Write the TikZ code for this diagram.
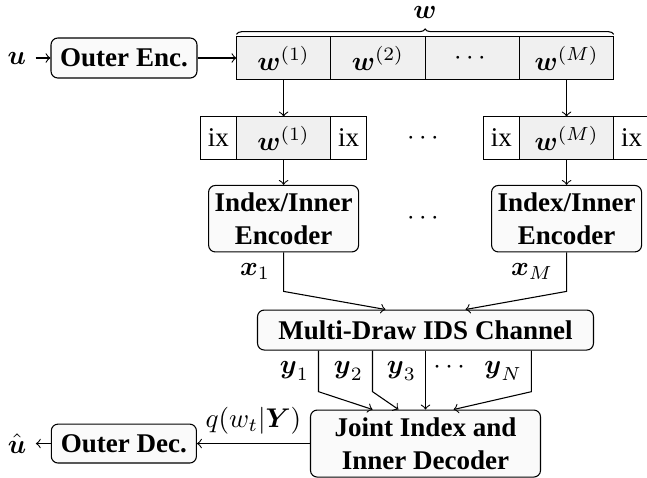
\documentclass[tikz,border=0pt]{standalone}
\usepackage{amsmath,amssymb}
\usepackage[no-math]{fontspec}
\setmainfont{Liberation Serif}
\usetikzlibrary{positioning,calc,decorations.pathreplacing}

\tikzset{
	blk/.style={draw, rounded corners=2.5pt, fill=gray!4, font=\bfseries, align=center, inner sep=2pt},
	cell/.style={draw, fill=gray!12, minimum width=34.9pt, minimum height=15.9pt, inner sep=0pt, outer sep=0pt},
	ixcell/.style={cell, fill=white, minimum width=13.3pt},
}

\begin{document}
\begin{tikzpicture}[x=0.37pt, y=-0.37pt]
	\useasboundingbox (0,0) rectangle (647,477);

	%% OUTER ENCODER and codeword
	\node[blk, minimum width=54pt, minimum height=14.8pt](outer_enc) at (124,58){Outer Enc.};
	\node[left=5.5pt of outer_enc](u){$\boldsymbol{u}$};
	\node[cell, right=14.4pt of outer_enc](w_1){$\boldsymbol{w}^{(1)}$};
	\node[cell, right=0pt of w_1](w_2){$\boldsymbol{w}^{(2)}$};
	\node[cell, right=0pt of w_2](w_dots){$\cdots$};
	\node[cell, right=0pt of w_dots](w_M){$\boldsymbol{w}^{(M)}$};

	\draw[->] (u) -- (outer_enc);
	\draw[->] (outer_enc) -- (w_1);
	\draw[decorate, decoration={brace, amplitude=2pt, raise=0.8pt}] (w_1.north west) -- (w_M.north east) node[midway, above=3pt](w_lab){$\boldsymbol{w}$};

	%% INDEXED SEQUENCES
	\node[cell, below=13.7pt of w_1](v_1){$\boldsymbol{w}^{(1)}$};
	\node[ixcell, left=0pt of v_1](ix_1a){ix};
	\node[ixcell, right=0pt of v_1](ix_1b){ix};

	\node[cell, below=13.7pt of w_M](v_M){$\boldsymbol{w}^{(M)}$};
	\node[ixcell, left=0pt of v_M](ix_Ma){ix};
	\node[ixcell, right=0pt of v_M](ix_Mb){ix};

	\node(dots_v) at ($(v_1)!0.5!(v_M)$){$\cdots$};

	\draw[->] (w_1) -- (v_1);
	\draw[->] (w_M) -- (v_M);

	%% INNER ENCODERS
	\node[blk, minimum width=55.5pt, minimum height=24.6pt, below=9.4pt of v_1](enc_1){Index/Inner\\Encoder};
	\node[blk, minimum width=55.5pt, minimum height=24.6pt, below=9.4pt of v_M](enc_M){Index/Inner\\Encoder};
	\node(dots_enc) at ($(enc_1)!0.5!(enc_M)$){$\cdots$};

	\draw[->] (v_1) -- (enc_1);
	\draw[->] (v_M) -- (enc_M);

	%% CHANNEL
	\node[blk, minimum width=124.3pt, minimum height=14.8pt, below=21.1pt of enc_1, xshift=52.5pt](chan){Multi-Draw IDS Channel};

	\draw[->] (enc_1.south) -- ++(0pt,-14.4pt) node[midway, left=1.5pt](x_1){$\boldsymbol{x}_1$} -- ([xshift=-14.8pt]chan.north);
	\draw[->] (enc_M.south) -- ++(0pt,-14.4pt) node[midway, left=1.5pt](x_M){$\boldsymbol{x}_M$} -- ([xshift=14.8pt]chan.north);

	%% DECODERS
	\node[blk, minimum width=85.1pt, minimum height=24.8pt, below=21.8pt of chan](joint){Joint Index and\\Inner Decoder};
	\node[blk, minimum width=53.7pt, minimum height=14.4pt, left=41.8pt of joint](outer_dec){Outer Dec.};
	\node[left=5.5pt of outer_dec](u_hat){$\hat{\boldsymbol{u}}$};

	\draw[->] ([xshift=-39.6pt]chan.south) -- ++(0pt,-15.2pt) node[midway, left](y_1){$\boldsymbol{y}_1$} -- ([xshift=-19.6pt]joint.north);
	\draw[->] ([xshift=-19.6pt]chan.south) -- ++(0pt,-15.2pt) node[midway, left](y_2){$\boldsymbol{y}_2$} -- ([xshift=-10pt]joint.north);
	\draw[->] (chan.south) -- ++(0pt,-15.2pt) node[midway, left](y_3){$\boldsymbol{y}_3$} -- (joint.north);
	\draw[->] ([xshift=39.2pt]chan.south) -- ++(0pt,-15.2pt) node[midway, left](y_N){$\cdots\;\;\boldsymbol{y}_N$} -- ([xshift=10.4pt]joint.north);

	\draw[->] (joint) -- (outer_dec) node[midway, above](q_lab){$q(w_t|\boldsymbol{Y})$};
	\draw[->] (outer_dec) -- (u_hat);

\end{tikzpicture}
\end{document}
